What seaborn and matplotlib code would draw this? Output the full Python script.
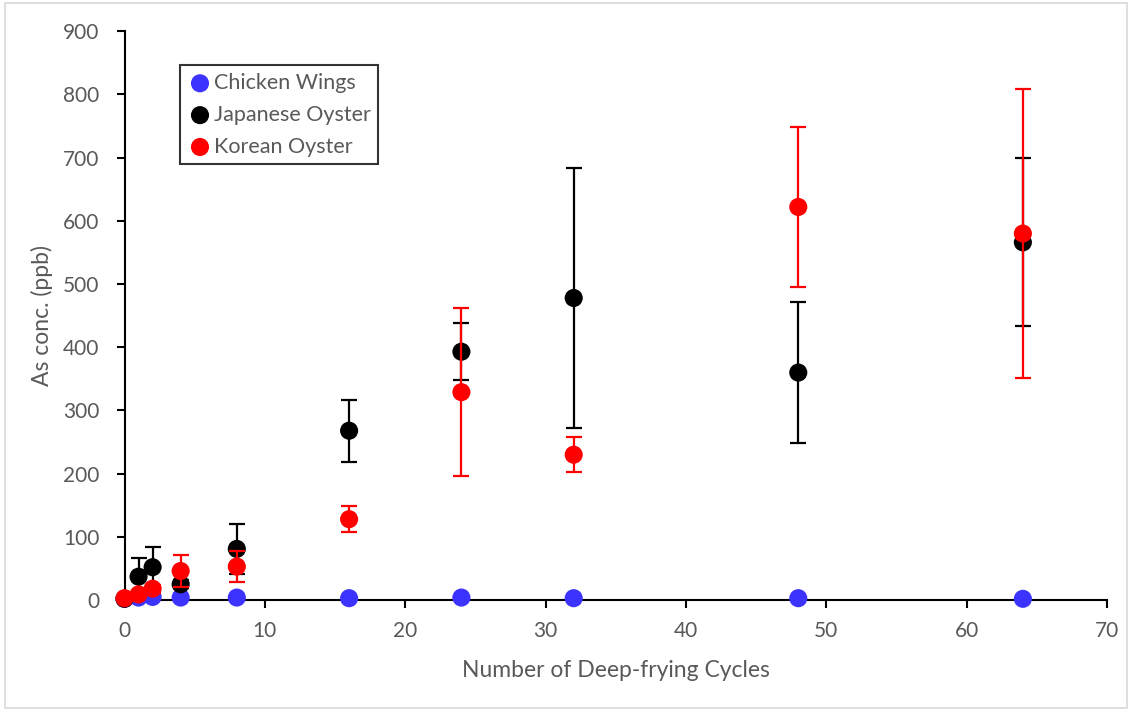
import numpy as np
import pandas as pd
import seaborn as sns
import matplotlib.pyplot as plt
from matplotlib.patches import Rectangle

# Data
cycles = [0, 1, 2, 4, 8, 16, 24, 32, 48, 64]
chicken = [2, 4, 5, 4, 4, 3, 4, 3, 3, 2]
japanese = [2, 37, 52, 25, 81, 268, 393, 478, 360, 566]
japanese_err = [2, 30, 32, 6, 39, 49, 45, 205, 112, 133]
korean = [3, 9, 18, 46, 53, 128, 329, 230, 622, 580]
korean_err = [2, 4, 6, 25, 24, 21, 133, 28, 126, 229]

series_names = ["Chicken Wings", "Japanese Oyster", "Korean Oyster"]
colors = {"Chicken Wings": "#3D33FF", "Japanese Oyster": "#000000", "Korean Oyster": "#FF0000"}

df = pd.DataFrame({
    "cycles": cycles * 3,
    "conc": chicken + japanese + korean,
    "series": [n for n in series_names for _ in cycles],
})

sns.set_style("white")
plt.rcParams["font.family"] = ["Lato", "DejaVu Sans"]

fig = plt.figure(figsize=(11.32, 7.11), dpi=100)
ax = fig.add_axes([0.110, 0.156, 0.868, 0.800])

# Error bars first, then points on top (series order like Excel)
ax.errorbar(cycles, japanese, yerr=japanese_err, fmt="none", ecolor="black",
            elinewidth=1.6, capsize=6, capthick=1.6, zorder=2)
sns.scatterplot(data=df[df.series == "Chicken Wings"], x="cycles", y="conc", color=colors["Chicken Wings"],
                s=170, edgecolor="none", ax=ax, zorder=3, label="Chicken Wings", clip_on=False)
sns.scatterplot(data=df[df.series == "Japanese Oyster"], x="cycles", y="conc", color=colors["Japanese Oyster"],
                s=170, edgecolor="none", ax=ax, zorder=4, label="Japanese Oyster", clip_on=False)
ax.errorbar(cycles, korean, yerr=korean_err, fmt="none", ecolor="#FF0000",
            elinewidth=1.6, capsize=6, capthick=1.6, zorder=5)
sns.scatterplot(data=df[df.series == "Korean Oyster"], x="cycles", y="conc", color=colors["Korean Oyster"],
                s=170, edgecolor="none", ax=ax, zorder=6, label="Korean Oyster", clip_on=False)

ax.set_xlim(0, 70)
ax.set_ylim(0, 900)
ax.set_xticks(range(0, 71, 10))
ax.set_yticks(range(0, 901, 100))

for side in ["top", "right"]:
    ax.spines[side].set_visible(False)
for side in ["left", "bottom"]:
    ax.spines[side].set_color("black")
    ax.spines[side].set_linewidth(1.5)

ax.tick_params(axis="both", direction="out", length=6, width=1.5, color="black",
               labelsize=15, labelcolor="#595959", bottom=True, left=True)
ax.tick_params(axis="x", pad=9)
ax.tick_params(axis="y", pad=12)
ax.set_xlabel("Number of Deep-frying Cycles", fontsize=16.5, color="#595959", labelpad=14)
ax.set_ylabel("As conc. (ppb)", fontsize=16.5, color="#595959", labelpad=7)

leg = ax.legend(loc="upper left", bbox_to_anchor=(0.056, 0.940), frameon=True, fancybox=False,
                fontsize=15.5, handletextpad=0.05, borderpad=0.35, labelspacing=0.55,
                handlelength=1.2, markerscale=1.0, borderaxespad=0)
leg.get_frame().set_edgecolor("black")
leg.get_frame().set_linewidth(1.5)
for t in leg.get_texts():
    t.set_color("#595959")

# light chart border like the source
fig.patches.append(Rectangle((0.004, 0.004), 0.992, 0.992, transform=fig.transFigure,
                             fill=False, edgecolor="#D9D9D9", linewidth=1.2))

fig.savefig("out.png", dpi=100)
